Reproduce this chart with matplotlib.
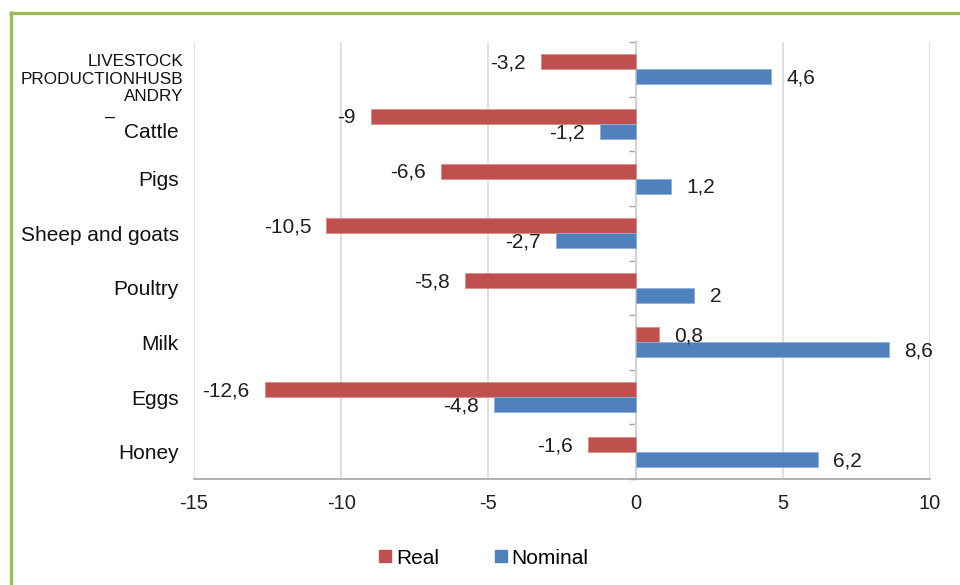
import numpy as np
import matplotlib.pyplot as plt
import matplotlib.transforms as mtransforms
from matplotlib.lines import Line2D

plt.rcParams['font.family'] = ['Liberation Sans', 'DejaVu Sans']
plt.rcParams['axes.unicode_minus'] = False

# Data
categories = ['LIVESTOCK PRODUCTIONHUSBANDRY', 'Cattle', 'Pigs', 'Sheep and goats',
              'Poultry', 'Milk', 'Eggs', 'Honey']
real = [-3.2, -9, -6.6, -10.5, -5.8, 0.8, -12.6, -1.6]
nominal = [4.6, -1.2, 1.2, -2.7, 2, 8.6, -4.8, 6.2]
x_ticks = [-15, -10, -5, 0, 5, 10]

red = '#C0504D'
blue = '#4F81BD'
grid_col = '#D9D9D9'
axis_col = '#A6A6A6'

fig = plt.figure(figsize=(9.6, 5.85), dpi=100)
ax = fig.add_axes([194 / 960, 1 - 479 / 585, 736 / 960, 437 / 585])

y = np.arange(len(categories))
h = 0.275
ax.barh(y - h / 2, real, height=h, color=red, edgecolor='#D98C8A', linewidth=0.6, zorder=3)
ax.barh(y + h / 2, nominal, height=h, color=blue, edgecolor='#8FB0DA', linewidth=0.6, zorder=3)

def fmt(v):
    return f'{v:g}'.replace('.', ',')

# value labels at the bar ends
for yy, vals in ((y - h / 2, real), (y + h / 2, nominal)):
    for yi, v in zip(yy, vals):
        off = 11 if v >= 0 else -11
        ax.annotate(fmt(v), (v, yi), xytext=(off, -1), textcoords='offset points',
                    ha='left' if v >= 0 else 'right', va='center', fontsize=15,
                    color='#1f1f1f', zorder=4)

ax.set_xlim(-15, 10)
ax.set_ylim(len(categories) - 0.5, -0.5)
ax.set_xticks(x_ticks, [str(t) for t in x_ticks])
ax.tick_params(axis='x', length=0, pad=11, labelsize=14.5, colors='#1f1f1f')
ax.xaxis.grid(True, color=grid_col, linewidth=1.2, zorder=0)

labels = [''] + categories[1:]
ax.set_yticks(y, labels)
ax.tick_params(axis='y', length=0, pad=11, labelsize=15, colors='#111111')
# Cattle label sits a little lower, under the dash of the heading
cattle = ax.get_yticklabels()[1]
cattle.set_transform(cattle.get_transform() +
                     mtransforms.ScaledTranslation(0, -7 / 100, fig.dpi_scale_trans))

for s in ('top', 'right', 'left'):
    ax.spines[s].set_visible(False)
ax.spines['bottom'].set_color(axis_col)
ax.spines['bottom'].set_linewidth(1.2)

# heading label of the first category
trans = mtransforms.blended_transform_factory(ax.transAxes, ax.transData)
ax.text(-11 / 736, 0.18, 'LIVESTOCK\nPRODUCTIONHUSB\nANDRY', transform=trans,
        ha='right', va='center', fontsize=12.3, linespacing=1.2, color='#111111')
ax.text(-89 / 736, 0.87, '–', transform=trans, ha='left', va='center',
        fontsize=13, color='#111111')

# category axis through zero with boundary ticks
sec = ax.secondary_yaxis(0.6)
sec.set_alignment('left')
sec.set_yticks(np.arange(-0.5, len(categories), 1.0))
sec.tick_params(axis='y', length=5, width=1, colors=axis_col, labelleft=False,
                labelright=False)
for s in sec.spines.values():
    s.set_color(axis_col)
    s.set_linewidth(1.2)

handles = [Line2D([], [], marker='s', linestyle='none', markersize=8,
                  markerfacecolor=c, markeredgecolor=c) for c in (red, blue)]
fig.legend(handles, ['Real', 'Nominal'], loc='center', bbox_to_anchor=(0.503, 0.046),
           ncol=2, frameon=False, fontsize=15, handletextpad=0.1,
           columnspacing=2.6, handlelength=0.8)

# green frame
frame = '#9BBB59'
fig.add_artist(Line2D([10.5 / 960, 10.5 / 960], [0, 1 - 11.3 / 585], color=frame,
                      linewidth=2.4, transform=fig.transFigure, solid_capstyle='butt'))
fig.add_artist(Line2D([9.3 / 960, 1], [1 - 12.5 / 585, 1 - 12.5 / 585], color=frame,
                      linewidth=2.4, transform=fig.transFigure, solid_capstyle='butt'))

fig.savefig('out.png', dpi=100)
